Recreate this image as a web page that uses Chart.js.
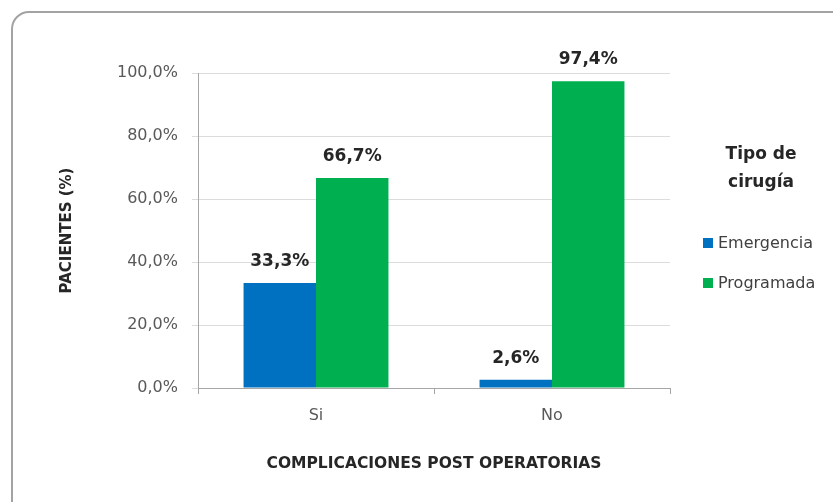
<!DOCTYPE html>
<html>
<head>
<meta charset="utf-8">
<script src="https://cdn.jsdelivr.net/npm/chart.js@4.4.1/dist/chart.umd.min.js"></script>
<style>
  html, body { margin: 0; padding: 0; background: #fff; overflow: hidden; width: 833px; height: 502px; }
  #frame { position: absolute; left: 11px; top: 11px; width: 900px; height: 530px; border: 2px solid #a3a3a3; border-radius: 18px; box-sizing: border-box; }
  #c { position: absolute; left: 0; top: 0; }
</style>
</head>
<body>
<div id="frame"></div>
<canvas id="c" width="833" height="502"></canvas>
<script>
const categories = ['Si', 'No'];
const seriesNames = ['Emergencia', 'Programada'];
const emergencia = [33.3, 2.6];
const programada = [66.7, 97.4];
const yTicks = [0, 20, 40, 60, 80, 100];
const legendTitle = ['Tipo de', 'cirugía'];
const xTitle = 'COMPLICACIONES POST OPERATORIAS';
const yTitle = 'PACIENTES (%)';

const FONT = "'DejaVu Sans', sans-serif";
const fmt = v => v.toFixed(1).replace('.', ',') + '%';

const dataLabels = {
  id: 'dataLabels',
  afterDatasetsDraw(chart) {
    const ctx = chart.ctx;
    ctx.save();
    ctx.font = "bold 17px " + FONT;
    ctx.fillStyle = '#262626';
    ctx.textAlign = 'center';
    ctx.textBaseline = 'alphabetic';
    chart.data.datasets.forEach((ds, i) => {
      const meta = chart.getDatasetMeta(i);
      meta.data.forEach((el, j) => {
        ctx.fillText(fmt(ds.data[j]), el.x, el.y - 17);
      });
    });
    ctx.restore();
  }
};

const customLegend = {
  id: 'customLegend',
  afterDraw(chart) {
    const ctx = chart.ctx;
    ctx.save();
    ctx.font = "bold 17px " + FONT;
    ctx.fillStyle = '#262626';
    ctx.textAlign = 'center';
    ctx.textBaseline = 'middle';
    ctx.fillText(legendTitle[0], 761, 155);
    ctx.fillText(legendTitle[1], 761, 183);
    ctx.font = "16px " + FONT;
    ctx.textAlign = 'left';
    const ys = [243, 283];
    chart.data.datasets.forEach((ds, i) => {
      ctx.fillStyle = ds.backgroundColor;
      ctx.fillRect(703, ys[i] - 5, 10, 10);
      ctx.fillStyle = '#404040';
      ctx.fillText(ds.label, 718, ys[i] + 1);
    });
    ctx.restore();
  }
};

new Chart(document.getElementById('c'), {
  type: 'bar',
  data: {
    labels: categories,
    datasets: [
      { label: seriesNames[0], data: emergencia, backgroundColor: '#0070C0' },
      { label: seriesNames[1], data: programada, backgroundColor: '#00B050' }
    ]
  },
  options: {
    responsive: false,
    devicePixelRatio: 1,
    animation: false,
    categoryPercentage: 0.614,
    barPercentage: 1.0,
    layout: { padding: { left: 40, right: 163, top: 73, bottom: 20 } },
    plugins: { legend: { display: false }, tooltip: { enabled: false } },
    scales: {
      x: {
        afterFit: s => { s.height = 94; },
        grid: { offset: true, drawOnChartArea: false, tickLength: 6, color: '#a6a6a6' },
        border: { color: '#a6a6a6', width: 1 },
        ticks: { font: { family: FONT, size: 16 }, color: '#595959', padding: 12 },
        title: { display: true, text: xTitle, font: { family: FONT, size: 15.5, weight: 'bold' }, color: '#262626', padding: { top: 0, bottom: 9 } }
      },
      y: {
        min: 0, max: 100,
        afterFit: s => { s.width = 158; },
        afterBuildTicks: s => { s.ticks = yTicks.map(v => ({ value: v })); },
        grid: { color: '#dcdcdc', tickLength: 6, drawTicks: true },
        border: { color: '#a6a6a6', width: 1 },
        ticks: { font: { family: FONT, size: 16 }, color: '#595959', padding: 14, callback: v => fmt(v) },
        title: { display: true, text: yTitle, font: { family: FONT, size: 15, weight: 'bold' }, color: '#262626', padding: { top: 18, bottom: 0 } }
      }
    }
  },
  plugins: [dataLabels, customLegend]
});
</script>
</body>
</html>
